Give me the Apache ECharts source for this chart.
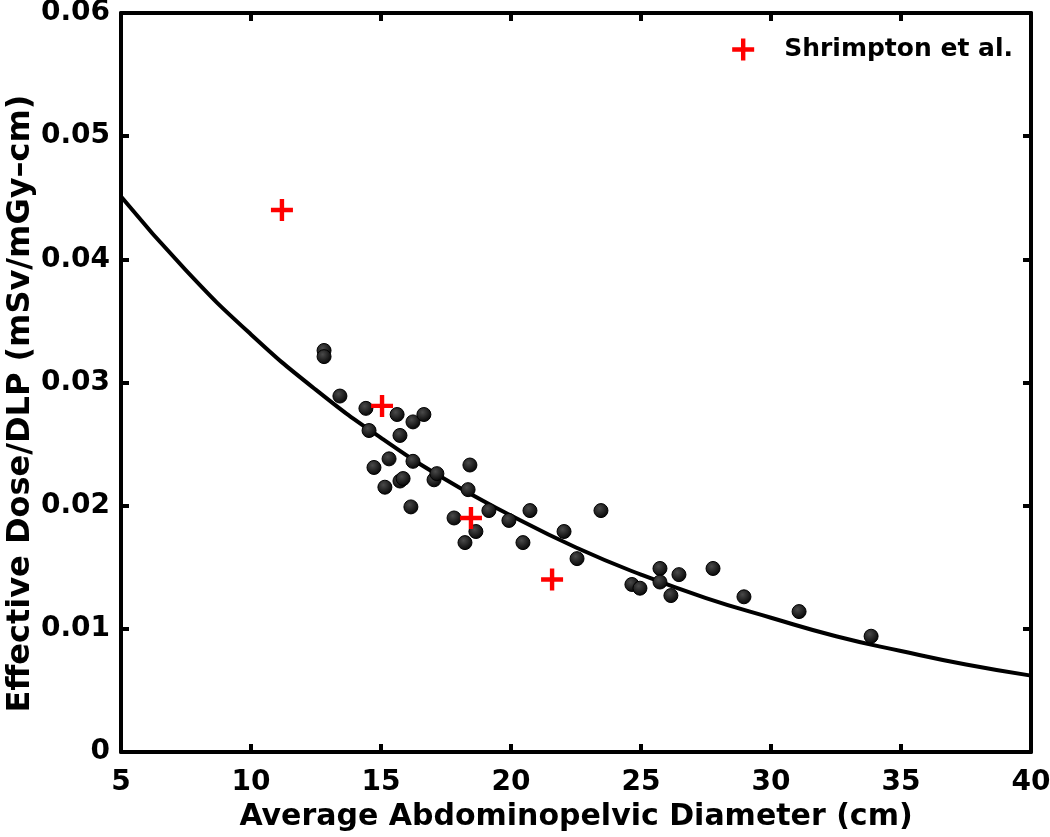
<!DOCTYPE html>
<html>
<head>
<meta charset="utf-8">
<script src="https://cdn.jsdelivr.net/npm/echarts@6/dist/echarts.min.js"></script>
<style>html,body{margin:0;padding:0;background:#fff;}#c{width:1050px;height:837px;}</style>
</head>
<body>
<div id="c"></div>
<script>
// Measured patients: [diameter cm, effective dose / DLP]
var patientX = [12.81,12.81,13.42,14.42,15.62,16.23,16.65,14.54,15.73,15.31,14.73,16.23,15.73,15.85,15.15,17.04,17.15,18.42,18.35,16.15,17.81,18.65,18.23,19.15,19.92,20.73,20.46,22.04,23.46,22.54,24.65,24.96,25.73,25.73,26.46,26.15,27.77,28.96,31.08,33.85];
var patientY = [0.0326,0.0321,0.0289,0.0279,0.0274,0.0268,0.0274,0.0261,0.0257,0.0238,0.0231,0.0236,0.0220,0.0222,0.0215,0.0221,0.0226,0.0233,0.0213,0.0199,0.0190,0.0179,0.0170,0.0196,0.0188,0.0196,0.0170,0.0179,0.0196,0.0157,0.0136,0.0133,0.0149,0.0138,0.0144,0.0127,0.0149,0.0126,0.0114,0.0094];
// Shrimpton et al.
var shrimptonX = [11.19, 15.04, 18.46, 21.58];
var shrimptonY = [0.0440, 0.0281, 0.0190, 0.0140];
// Fitted curve
var fitX = [5, 7.5, 10, 12.5, 15, 17.5, 20, 22.5, 25, 27.5, 30, 32.5, 35, 37.5, 40];
var fitY = [0.0451, 0.0391, 0.0339, 0.0294, 0.0255, 0.0221, 0.0192, 0.0166, 0.0144, 0.0125, 0.0109, 0.0094, 0.0082, 0.0071, 0.0062];
var xTicks = [5, 10, 15, 20, 25, 30, 35, 40];
var yTicks = ['0', '0.01', '0.02', '0.03', '0.04', '0.05', '0.06'];

function zip(a, b) { return a.map(function (v, i) { return [v, b[i]]; }); }
var plusPath = 'path://M4,0H6V4H10V6H6V10H4V6H0V4H4Z';
var font = 'DejaVu Sans, Verdana, sans-serif';

var chart = echarts.init(document.getElementById('c'), null, {renderer: 'canvas'});
var tickStyle = {show: true, inside: true, length: 8, lineStyle: {color: '#000', width: 4}};
var baseX = {type: 'value', min: 5, max: 40, interval: 5, splitLine: {show: false},
  axisLine: {show: true, onZero: false, lineStyle: {color: '#000', width: 4}}, axisTick: tickStyle};
var baseY = {type: 'value', min: 0, max: 0.06, interval: 0.01, splitLine: {show: false},
  axisLine: {show: true, onZero: false, lineStyle: {color: '#000', width: 4}}, axisTick: tickStyle};

chart.setOption({
  animation: false,
  backgroundColor: '#fff',
  grid: {left: 121, right: 19, top: 13, bottom: 85, containLabel: false, outerBoundsMode: 'none'},
  xAxis: [
    Object.assign({}, baseX, {position: 'bottom',
      name: 'Average Abdominopelvic Diameter (cm)', nameLocation: 'middle', nameGap: 50, nameMoveOverlap: false,
      nameTextStyle: {fontFamily: font, fontWeight: 'bold', fontSize: 30, color: '#000'},
      axisLabel: {show: true, margin: 17, fontFamily: font, fontWeight: 'bold', fontSize: 28, color: '#000',
        formatter: function (v) { return xTicks.indexOf(v) >= 0 ? String(v) : ''; }}}),
    Object.assign({}, baseX, {position: 'top', axisLabel: {show: false}})
  ],
  yAxis: [
    Object.assign({}, baseY, {position: 'left',
      name: 'Effective Dose/DLP (mSv/mGy\u2013cm)', nameLocation: 'middle', nameGap: 84, nameRotate: 90, nameMoveOverlap: false,
      nameTextStyle: {fontFamily: font, fontWeight: 'bold', fontSize: 32, color: '#000', padding: [0, 42, 0, 0]},
      axisLabel: {show: true, margin: 11, fontFamily: font, fontWeight: 'bold', fontSize: 28, color: '#000',
        formatter: function (v) { var i = Math.round(v * 100); return yTicks[i] !== undefined ? yTicks[i] : ''; }}}),
    Object.assign({}, baseY, {position: 'right', axisLabel: {show: false}})
  ],
  legend: {
    show: true, data: [{name: 'Shrimpton et al.', itemStyle: {color: '#ff0000', opacity: 1}}], right: 32, top: 32,
    itemWidth: 22, itemHeight: 22, itemGap: 10,
    textStyle: {fontFamily: font, fontWeight: 'bold', fontSize: 25, color: '#000', padding: [0, 0, 0, 25]}
  },
  series: [
    {name: 'fit', type: 'line', data: zip(fitX, fitY), smooth: true, showSymbol: false, symbol: 'none',
      lineStyle: {color: '#000', width: 4}, z: 2},
    {name: 'patients', type: 'scatter', data: zip(patientX, patientY), symbol: 'circle', symbolSize: 14,
      itemStyle: {opacity: 1, borderColor: '#000', borderWidth: 1,
        color: {type: 'radial', x: 0.4, y: 0.35, r: 0.7, colorStops: [{offset: 0, color: '#4a4a4a'}, {offset: 1, color: '#000'}]}}, z: 3},
    {name: 'Shrimpton et al.', type: 'scatter', data: zip(shrimptonX, shrimptonY), symbol: plusPath, symbolSize: 22,
      itemStyle: {color: '#ff0000', opacity: 1}, z: 4}
  ]
});
</script>
</body>
</html>
